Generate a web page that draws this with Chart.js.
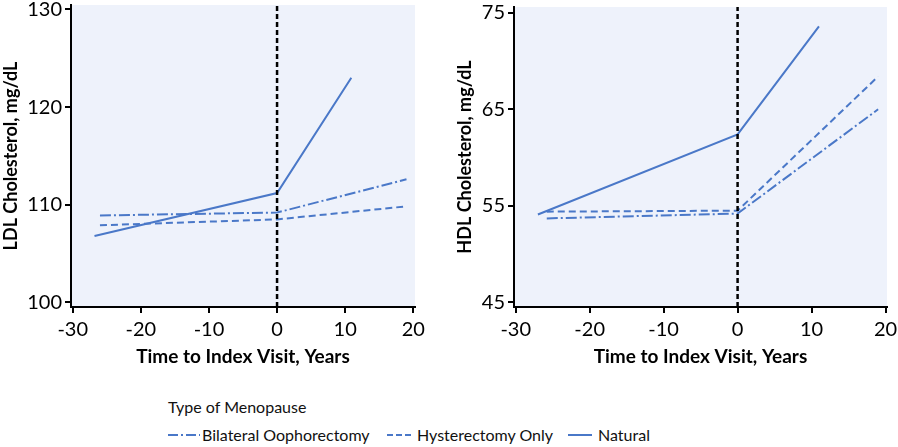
<!DOCTYPE html>
<html lang="en">
<head>
    <meta charset="UTF-8">
    <title>Cholesterol by Type of Menopause</title>
    <script src="https://cdn.jsdelivr.net/npm/chart.js"></script>
    <style>
        body { margin: 0; background: #fff; width: 898px; height: 447px; position: relative; overflow: hidden; font-family: Lato, "Noto Sans", sans-serif; }
        .panel { position: absolute; top: 0; height: 380px; }
        #ldlBox { left: 0; width: 440px; }
        #hdlBox { left: 450px; width: 448px; }
        .legend-title { position: absolute; left: 168px; top: 397px; font-size: 16px; color: #111; }
        .legend-item { position: absolute; top: 425px; font-size: 16px; color: #111; white-space: nowrap; }
        .legend-item svg { position: absolute; top: 8px; }
    </style>
</head>
<body>
    <div class="panel" id="ldlBox"><canvas id="ldlChart"></canvas></div>
    <div class="panel" id="hdlBox"><canvas id="hdlChart"></canvas></div>

    <div class="legend-title">Type of Menopause</div>
    <div class="legend-item" style="left:168px">
        <svg width="32" height="4" style="left:0"><line x1="0" y1="2" x2="32" y2="2" stroke="#4a78c8" stroke-width="2" stroke-dasharray="10,3,2,3"/></svg>
        <span style="position:absolute; left:34px">Bilateral Oophorectomy</span>
    </div>
    <div class="legend-item" style="left:387px">
        <svg width="24" height="4" style="left:0"><line x1="0" y1="2" x2="24" y2="2" stroke="#4a78c8" stroke-width="2" stroke-dasharray="6,3"/></svg>
        <span style="position:absolute; left:30px">Hysterectomy Only</span>
    </div>
    <div class="legend-item" style="left:568px">
        <svg width="24" height="4" style="left:0"><line x1="0" y1="2" x2="24" y2="2" stroke="#4a78c8" stroke-width="2"/></svg>
        <span style="position:absolute; left:30px">Natural</span>
    </div>

    <script>
        // Years relative to index visit and fitted cholesterol values
        const xTicks = [-30, -20, -10, 0, 10, 20];

        const ldlTicks = [100, 110, 120, 130];
        const ldlBilateralX = [-26, 0, 19];
        const ldlBilateralY = [108.9, 109.2, 112.6];
        const ldlHysterectomyX = [-26, 0, 18.5];
        const ldlHysterectomyY = [107.9, 108.5, 109.8];
        const ldlNaturalX = [-26.8, 0, 10.9];
        const ldlNaturalY = [106.8, 111.2, 123.0];

        const hdlTicks = [45, 55, 65, 75];
        const hdlBilateralX = [-25.8, 0, 19];
        const hdlBilateralY = [53.7, 54.2, 65.0];
        const hdlHysterectomyX = [-25.8, 0, 19];
        const hdlHysterectomyY = [54.4, 54.5, 68.4];
        const hdlNaturalX = [-27, 0, 11];
        const hdlNaturalY = [54.1, 62.4, 73.6];

        const indexVisit = 0;

        const blue = '#4a78c8';
        const plotBg = '#eef2fb';

        function points(xs, ys) {
            return xs.map((x, i) => ({ x: x, y: ys[i] }));
        }

        const plotBackground = {
            id: 'plotBackground',
            beforeDraw(chart) {
                const a = chart.chartArea;
                const ctx = chart.ctx;
                ctx.save();
                ctx.fillStyle = plotBg;
                ctx.fillRect(a.left, a.top, a.right - a.left, a.bottom - a.top);
                ctx.restore();
            }
        };

        function makeChart(id, cfg) {
            const yMin = cfg.yMin, yMax = cfg.yMax;
            const series = [
                { data: points(cfg.natX, cfg.natY), dash: [] },
                { data: points(cfg.hysX, cfg.hysY), dash: [7, 4] },
                { data: points(cfg.bilX, cfg.bilY), dash: [11, 3, 2, 3] }
            ];
            const datasets = [{
                data: [{ x: indexVisit, y: yMin }, { x: indexVisit, y: yMax }],
                borderColor: '#000',
                borderWidth: 2.5,
                borderDash: [5, 3],
                pointRadius: 0
            }].concat(series.map(s => ({
                data: s.data,
                borderColor: blue,
                borderWidth: 2,
                borderDash: s.dash,
                pointRadius: 0,
                tension: 0
            })));

            return new Chart(document.getElementById(id), {
                type: 'line',
                data: { datasets: datasets },
                plugins: [plotBackground],
                options: {
                    responsive: true,
                    maintainAspectRatio: false,
                    animation: false,
                    layout: { padding: { top: cfg.top, right: cfg.right, left: 0, bottom: 0 } },
                    plugins: { legend: { display: false }, tooltip: { enabled: false } },
                    scales: {
                        x: {
                            type: 'linear',
                            min: cfg.xMin,
                            max: cfg.xMax,
                            afterBuildTicks: axis => { axis.ticks = xTicks.map(v => ({ value: v })); },
                            afterFit: axis => { axis.height = 380 - cfg.bottom; axis.paddingLeft = 0; axis.paddingRight = 0; },
                            grid: { display: true, drawOnChartArea: false, drawTicks: true, tickLength: 6, color: '#000', lineWidth: 2 },
                            border: { display: true, color: '#000', width: 2 },
                            ticks: { color: '#000', font: { family: 'Lato', size: 20 }, padding: 5, maxRotation: 0 },
                            title: { display: true, text: 'Time to Index Visit, Years', color: '#000',
                                     font: { family: 'Lato', size: 19, weight: 'bold' }, padding: { top: 0, bottom: 12 } }
                        },
                        y: {
                            type: 'linear',
                            min: yMin,
                            max: yMax,
                            afterBuildTicks: axis => { axis.ticks = cfg.yTicks.map(v => ({ value: v })); },
                            afterFit: axis => { axis.width = cfg.left; axis.paddingTop = 0; axis.paddingBottom = 0; },
                            grid: { display: true, drawOnChartArea: false, drawTicks: true, tickLength: 6, color: '#000', lineWidth: 2 },
                            border: { display: true, color: '#000', width: 2 },
                            ticks: { color: '#000', font: { family: 'Lato', size: 20 }, padding: 3 },
                            title: { display: true, text: cfg.yTitle, color: '#000',
                                     font: { family: 'Lato', size: 18, weight: 'bold' }, padding: { top: cfg.titlePad, bottom: 0 } }
                        }
                    }
                }
            });
        }

        window.onload = function() {
            makeChart('ldlChart', {
                yTitle: 'LDL Cholesterol, mg/dL',
                yTicks: ldlTicks, yMin: 99.53, yMax: 130.45,
                xMin: -30.25, xMax: 20.25,
                left: 71, top: 5, right: 25, bottom: 307, titlePad: 0,
                bilX: ldlBilateralX, bilY: ldlBilateralY,
                hysX: ldlHysterectomyX, hysY: ldlHysterectomyY,
                natX: ldlNaturalX, natY: ldlNaturalY
            });
            makeChart('hdlChart', {
                yTitle: 'HDL Cholesterol, mg/dL',
                yTicks: hdlTicks, yMin: 44.52, yMax: 75.6,
                xMin: -30.23, xMax: 20.2,
                left: 64, top: 7, right: 11, bottom: 307, titlePad: 4,
                bilX: hdlBilateralX, bilY: hdlBilateralY,
                hysX: hdlHysterectomyX, hysY: hdlHysterectomyY,
                natX: hdlNaturalX, natY: hdlNaturalY
            });
        };
    </script>
</body>
</html>
